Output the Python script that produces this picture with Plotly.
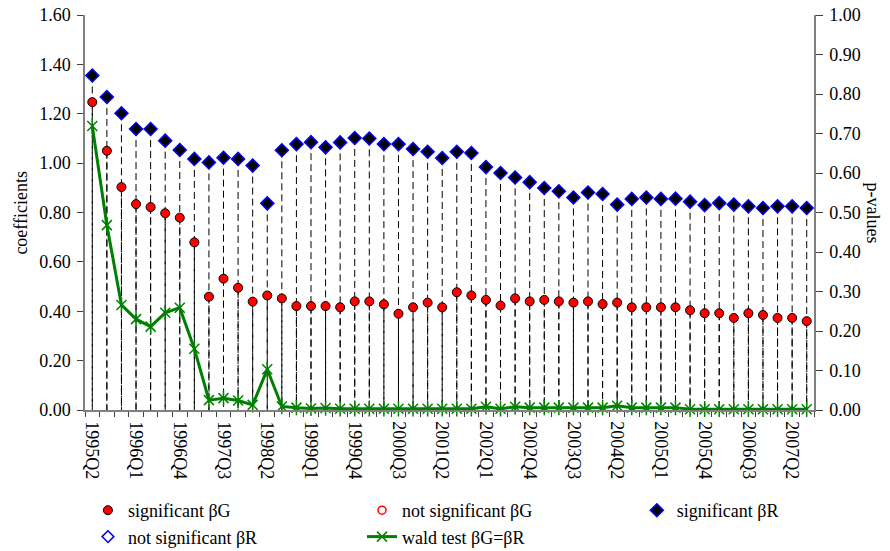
import plotly.graph_objects as go

quarters = ["1995Q2", "1995Q3", "1995Q4", "1996Q1", "1996Q2", "1996Q3", "1996Q4",
            "1997Q1", "1997Q2", "1997Q3", "1997Q4", "1998Q1", "1998Q2", "1998Q3",
            "1998Q4", "1999Q1", "1999Q2", "1999Q3", "1999Q4", "2000Q1", "2000Q2",
            "2000Q3", "2000Q4", "2001Q1", "2001Q2", "2001Q3", "2001Q4", "2002Q1",
            "2002Q2", "2002Q3", "2002Q4", "2003Q1", "2003Q2", "2003Q3", "2003Q4",
            "2004Q1", "2004Q2", "2004Q3", "2004Q4", "2005Q1", "2005Q2", "2005Q3",
            "2005Q4", "2006Q1", "2006Q2", "2006Q3", "2006Q4", "2007Q1", "2007Q2",
            "2007Q3"]

tick_labels = ["1995Q2", "1996Q1", "1996Q4", "1997Q3", "1998Q2", "1999Q1", "1999Q4",
               "2000Q3", "2001Q2", "2002Q1", "2002Q4", "2003Q3", "2004Q2", "2005Q1",
               "2005Q4", "2006Q3", "2007Q2"]

coef_ticks = [0.0, 0.2, 0.4, 0.6, 0.8, 1.0, 1.2, 1.4, 1.6]
pval_ticks = [0.0, 0.1, 0.2, 0.3, 0.4, 0.5, 0.6, 0.7, 0.8, 0.9, 1.0]

beta_R = [1.355, 1.268, 1.202, 1.138, 1.138, 1.091, 1.053, 1.017, 1.003, 1.022,
          1.017, 0.990, 0.837, 1.052, 1.077, 1.085, 1.064, 1.084, 1.102, 1.100,
          1.077, 1.077, 1.057, 1.046, 1.021, 1.046, 1.041, 0.984, 0.960, 0.942,
          0.923, 0.899, 0.886, 0.861, 0.881, 0.875, 0.832, 0.855, 0.861, 0.855,
          0.856, 0.844, 0.830, 0.838, 0.832, 0.825, 0.818, 0.825, 0.825, 0.818]

beta_G = [1.247, 1.050, 0.903, 0.834, 0.822, 0.797, 0.779, 0.679, 0.459, 0.532,
          0.495, 0.439, 0.464, 0.452, 0.421, 0.421, 0.421, 0.416, 0.440, 0.440,
          0.428, 0.390, 0.416, 0.435, 0.416, 0.477, 0.464, 0.446, 0.423, 0.452,
          0.440, 0.446, 0.440, 0.435, 0.440, 0.429, 0.435, 0.416, 0.416, 0.416,
          0.416, 0.404, 0.392, 0.392, 0.373, 0.392, 0.385, 0.373, 0.373, 0.360]

wald_p = [0.719, 0.468, 0.266, 0.230, 0.211, 0.246, 0.259, 0.155, 0.025, 0.030,
          0.024, 0.013, 0.103, 0.009, 0.006, 0.004, 0.005, 0.003, 0.003, 0.003,
          0.003, 0.003, 0.003, 0.003, 0.003, 0.003, 0.003, 0.008, 0.003, 0.008,
          0.006, 0.006, 0.006, 0.006, 0.006, 0.006, 0.011, 0.006, 0.006, 0.006,
          0.006, 0.002, 0.002, 0.002, 0.002, 0.002, 0.002, 0.002, 0.002, 0.002]

FONT = "Liberation Serif"
FS = 18
xi = list(range(len(quarters)))
tickvals = [quarters.index(t) for t in tick_labels]


def drop_lines(vals):
    xs, ys = [], []
    for i, v in zip(xi, vals):
        xs += [i, i, None]
        ys += [v, 0, None]
    return xs, ys


fig = go.Figure()

# drop lines (drawn from the marker down to the axis, dashed)
for vals in (beta_R, beta_G):
    dx, dy = drop_lines(vals)
    fig.add_trace(go.Scatter(x=dx, y=dy, mode="lines", showlegend=False,
                             hoverinfo="skip", connectgaps=False,
                             line=dict(color="black", width=1, dash="7px,4px")))

# legend column 1
fig.add_trace(go.Scatter(x=xi, y=beta_G, mode="markers", name="significant βG",
                         legend="legend", cliponaxis=False,
                         marker=dict(symbol="circle", size=9, color="#ff0000",
                                     line=dict(color="black", width=1))))
fig.add_trace(go.Scatter(x=[None], y=[None], mode="markers", name="not significant βR",
                         legend="legend",
                         marker=dict(symbol="diamond-open", size=9, color="#0000ff",
                                     line=dict(color="#0000ff", width=1.5))))
# legend column 2
fig.add_trace(go.Scatter(x=[None], y=[None], mode="markers", name="not significant βG",
                         legend="legend2",
                         marker=dict(symbol="circle-open", size=8, color="#ff0000",
                                     line=dict(color="#ff0000", width=1.5))))
# legend column 3
fig.add_trace(go.Scatter(x=xi, y=beta_R, mode="markers", name="significant βR",
                         legend="legend3", cliponaxis=False,
                         marker=dict(symbol="diamond", size=10, color="black",
                                     line=dict(color="#0000ff", width=1.5))))
# wald test line (secondary axis)
fig.add_trace(go.Scatter(x=xi, y=wald_p, mode="lines+markers", name="wald test βG=βR",
                         legend="legend2", yaxis="y2", cliponaxis=False,
                         line=dict(color="#008000", width=3),
                         marker=dict(symbol="x-thin-open", size=10, color="#008000",
                                     line=dict(color="#008000", width=1.5))))
fig.add_trace(go.Scatter(x=xi, y=wald_p, mode="markers", showlegend=False,
                         yaxis="y2", cliponaxis=False, hoverinfo="skip",
                         marker=dict(symbol="line-ns-open", size=11, color="#008000",
                                     line=dict(color="#008000", width=1.5))))

axis_line = "#808080"
legend_common = dict(orientation="v", xanchor="left", yanchor="top",
                     font=dict(family=FONT, size=FS, color="black"),
                     bgcolor="rgba(0,0,0,0)", tracegroupgap=0, itemsizing="trace")

LEG_Y = -0.2076

fig.update_layout(
    width=882, height=543,
    margin=dict(l=77, r=76, t=7, b=141, autoexpand=False),
    paper_bgcolor="white", plot_bgcolor="white",
    font=dict(family=FONT, size=FS, color="black"),
    xaxis=dict(range=[-0.5, len(quarters) - 0.5], tickmode="array", tickvals=tickvals,
               ticktext=tick_labels, tickangle=90, ticks="", showgrid=False,
               zeroline=False, showline=True, linecolor=axis_line, linewidth=1.5,
               ticklabelstandoff=6,
               tickfont=dict(family=FONT, size=FS, color="black"), automargin=False,
               minor=dict(ticks="outside", tick0=-0.5, dtick=1, ticklen=5,
                          tickcolor="#404040", tickwidth=1, showgrid=False)),
    yaxis=dict(range=[coef_ticks[0], coef_ticks[-1]], tickmode="array",
               tickvals=coef_ticks, tickformat=".2f", ticks="outside",
               ticklen=6, tickcolor="#404040", showgrid=False, zeroline=False,
               showline=True, linecolor=axis_line, linewidth=1.5, automargin=False,
               ticklabelstandoff=3, ticklabeloverflow="allow",
               tickfont=dict(family=FONT, size=FS, color="black")),
    yaxis2=dict(range=[pval_ticks[0], pval_ticks[-1]], tickmode="array",
                tickvals=pval_ticks, tickformat=".2f", ticks="outside",
                ticklen=7, tickcolor="#404040", showgrid=False, zeroline=False,
                showline=True, linecolor=axis_line, linewidth=1.5, automargin=False,
                overlaying="y", side="right", ticklabelstandoff=3,
                ticklabeloverflow="allow",
                tickfont=dict(family=FONT, size=FS, color="black")),
    legend=dict(x=0.004, y=LEG_Y, **legend_common),
    legend2=dict(x=0.38, y=LEG_Y, **legend_common),
    legend3=dict(x=0.757, y=LEG_Y, **legend_common),
    annotations=[
        dict(text="coefficients", xref="paper", yref="paper", x=-0.089, y=0.5,
             xanchor="center", yanchor="middle",
             textangle=-90, showarrow=False, font=dict(family=FONT, size=FS)),
        dict(text="p-values", xref="paper", yref="paper", x=1.081, y=0.5,
             xanchor="center", yanchor="middle",
             textangle=90, showarrow=False, font=dict(family=FONT, size=FS)),
    ],
)

fig.write_html("out.html")
